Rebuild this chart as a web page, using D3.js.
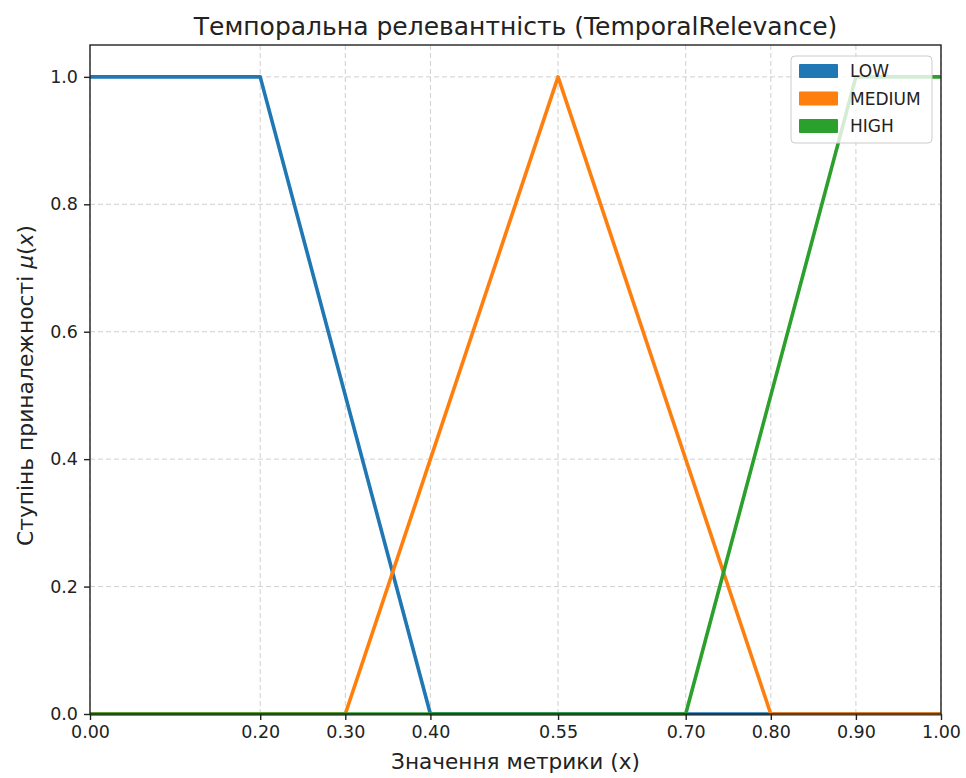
<!DOCTYPE html>
<html>
<head>
<meta charset="utf-8">
<script src="https://cdn.jsdelivr.net/npm/d3@7"></script>
<style>
  body { margin: 0; background: #fff; }
  svg text { font-family: "DejaVu Sans", sans-serif; fill: #222; }
  .grid line { stroke: #b0b0b0; stroke-opacity: 0.6; stroke-dasharray: 5 3; stroke-width: 1; }
  .axis path, .axis line { stroke: #222; stroke-width: 1.4; }
  .axis text { font-size: 17.5px; }
</style>
</head>
<body>
<svg id="chart"></svg>
<script>
const titleText = "Темпоральна релевантність (TemporalRelevance)";
const xLabel = "Значення метрики (x)";
const xTicks = [0, 0.2, 0.3, 0.4, 0.55, 0.7, 0.8, 0.9, 1.0];
const yTicks = [0, 0.2, 0.4, 0.6, 0.8, 1.0];

const seriesNames = ["LOW", "MEDIUM", "HIGH"];
const seriesColors = ["#1f77b4", "#ff7f0e", "#2ca02c"];
const lowX = [0, 0.2, 0.4, 1.0];
const lowY = [1, 1, 0, 0];
const mediumX = [0, 0.3, 0.55, 0.8, 1.0];
const mediumY = [0, 0, 1, 0, 0];
const highX = [0, 0.7, 0.9, 1.0];
const highY = [0, 0, 1, 1];

const chartSize = {width: 966, height: 778};
const margin = {left: 90, right: 25, top: 45, bottom: 64};
const width = chartSize.width - margin.left - margin.right;
const height = chartSize.height - margin.top - margin.bottom;

const svg = d3.select("#chart")
  .attr("width", chartSize.width)
  .attr("height", chartSize.height);

const g = svg.append("g")
  .attr("transform", `translate(${margin.left},${margin.top})`);

const x = d3.scaleLinear().domain([0, 1]).range([0, width]);
const y = d3.scaleLinear().domain([0, 1.05]).range([height, 0]);

// grid
g.append("g").attr("class", "grid")
  .selectAll("line").data(xTicks).enter().append("line")
  .attr("x1", d => x(d)).attr("x2", d => x(d))
  .attr("y1", 0).attr("y2", height);
g.append("g").attr("class", "grid")
  .selectAll("line").data(yTicks).enter().append("line")
  .attr("x1", 0).attr("x2", width)
  .attr("y1", d => y(d)).attr("y2", d => y(d));

// series
const series = [
  {name: seriesNames[0], xs: lowX, ys: lowY},
  {name: seriesNames[1], xs: mediumX, ys: mediumY},
  {name: seriesNames[2], xs: highX, ys: highY}
];
const line = d3.line().x(p => x(p[0])).y(p => y(p[1]));
g.selectAll(".series").data(series).enter().append("path")
  .attr("class", "series")
  .attr("fill", "none")
  .attr("stroke", (d, i) => seriesColors[i])
  .attr("stroke-width", 3.6)
  .attr("stroke-linejoin", "round")
  .attr("d", d => line(d3.zip(d.xs, d.ys)));

// axes
const xAxis = d3.axisBottom(x).tickValues(xTicks).tickFormat(d3.format(".2f"))
  .tickSize(6).tickPadding(6).tickSizeOuter(0);
const yAxis = d3.axisLeft(y).tickValues(yTicks).tickFormat(d3.format(".1f"))
  .tickSize(6).tickPadding(6).tickSizeOuter(0);
g.append("g").attr("class", "axis").attr("transform", `translate(0,${height})`).call(xAxis)
  .call(a => a.select(".domain").remove());
g.append("g").attr("class", "axis").call(yAxis)
  .call(a => a.select(".domain").remove());
g.selectAll(".axis text").attr("fill", "#222");

// frame
g.append("rect")
  .attr("width", width).attr("height", height)
  .attr("fill", "none").attr("stroke", "#222").attr("stroke-width", 1.4);

// title and labels
svg.append("text")
  .attr("x", margin.left + width / 2).attr("y", 35)
  .attr("text-anchor", "middle").attr("font-size", 25)
  .text(titleText);

svg.append("text")
  .attr("x", margin.left + width / 2).attr("y", 769)
  .attr("text-anchor", "middle").attr("font-size", 21.6)
  .text(xLabel);

const yl = svg.append("text")
  .attr("transform", `translate(33,${margin.top + height / 2 + 6}) rotate(-90)`)
  .attr("text-anchor", "middle").attr("font-size", 21.8);
yl.append("tspan").text("Ступінь приналежності ");
yl.append("tspan").attr("font-style", "italic").text("μ");
yl.append("tspan").text("(");
yl.append("tspan").attr("font-style", "italic").text("x");
yl.append("tspan").text(")");

// legend
const legend = g.append("g").attr("transform", `translate(${width - 150},11)`);
legend.append("rect")
  .attr("width", 141).attr("height", 87).attr("rx", 4)
  .attr("fill", "#fff").attr("fill-opacity", 0.8)
  .attr("stroke", "#cccccc").attr("stroke-width", 1);
const items = legend.selectAll(".item").data(seriesNames).enter().append("g")
  .attr("transform", (d, i) => `translate(0,${15 + i * 27.5})`);
items.append("rect")
  .attr("x", 8).attr("y", -7).attr("width", 39).attr("height", 14).attr("rx", 1)
  .attr("fill", (d, i) => seriesColors[i]);
items.append("text")
  .attr("x", 59).attr("y", 6).attr("font-size", 17)
  .text(d => d);
</script>
</body>
</html>
